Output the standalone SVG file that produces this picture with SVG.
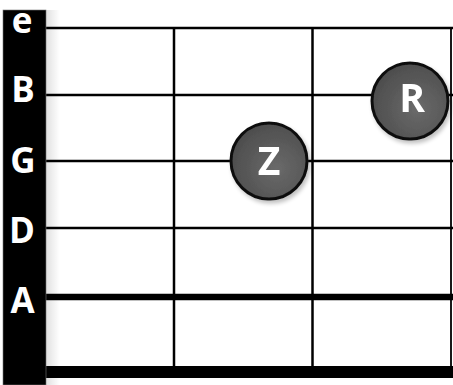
<svg xmlns="http://www.w3.org/2000/svg" width="453" height="385" viewBox="0 0 453 385">
  <defs>
    <radialGradient id="dot" cx="0.6" cy="0.6" r="0.6">
      <stop offset="0" stop-color="#6a6a6a"/>
      <stop offset="1" stop-color="#4e4e4e"/>
    </radialGradient>
    <linearGradient id="barShadow" x1="0" y1="0" x2="1" y2="0">
      <stop offset="0" stop-color="#000" stop-opacity="0.12"/>
      <stop offset="1" stop-color="#000" stop-opacity="0"/>
    </linearGradient>
    <filter id="sh" x="-30%" y="-30%" width="160%" height="160%">
      <feGaussianBlur in="SourceAlpha" stdDeviation="2"/>
      <feOffset dx="2" dy="3" result="b"/>
      <feComponentTransfer><feFuncA type="linear" slope="0.25"/></feComponentTransfer>
      <feMerge><feMergeNode/><feMergeNode in="SourceGraphic"/></feMerge>
    </filter>
  </defs>
  <style>
    .str { stroke: #000; fill: none; }
    .fret { stroke: #000; stroke-width: 2.5; fill: none; }
    .lbl { font-family: "Open Sans", "DejaVu Sans", sans-serif; font-weight: bold; font-size: 35px; fill: #fff; text-anchor: middle; }
    .dot { fill: url(#dot); stroke: #111; stroke-width: 3; }
    .dl { font-family: "Open Sans", "DejaVu Sans", sans-serif; font-weight: bold; font-size: 39px; fill: #fff; text-anchor: middle; }
  </style>
  <rect width="453" height="385" fill="#fff"/>
  <rect x="46" y="10" width="14" height="375" fill="url(#barShadow)"/>
  <g id="connectors">
    <line class="fret" x1="174" y1="28" x2="174" y2="372"/>
    <line class="fret" x1="312.5" y1="28" x2="312.5" y2="372"/>
    <line class="str" stroke-width="1.8" x1="451" y1="28" x2="451" y2="372"/>
    <line class="str" stroke-width="2.5" x1="46" y1="28" x2="453" y2="28"/>
    <line class="str" stroke-width="2.5" x1="46" y1="95" x2="453" y2="95"/>
    <line class="str" stroke-width="2.5" x1="46" y1="161" x2="453" y2="161"/>
    <line class="str" stroke-width="2.5" x1="46" y1="228" x2="453" y2="228"/>
    <line class="str" stroke-width="6.5" x1="46" y1="297" x2="453" y2="297"/>
    <line class="str" stroke-width="12" x1="46" y1="372" x2="453" y2="372"/>
  </g>
  <g id="nut">
    <rect x="3" y="10" width="43" height="375" fill="#000" stroke="#777" stroke-width="0.6"/>
    <text class="lbl" x="22" y="33">e</text>
    <text class="lbl" x="23" y="102">B</text>
    <text class="lbl" x="23" y="173">G</text>
    <text class="lbl" x="22" y="243">D</text>
    <text class="lbl" x="22.5" y="313">A</text>
  </g>
  <g id="node-Z" filter="url(#sh)">
    <circle class="dot" cx="269" cy="161" r="38"/>
    <text class="dl" x="269" y="175">Z</text>
  </g>
  <g id="node-R" filter="url(#sh)">
    <circle class="dot" cx="410" cy="101" r="38"/>
    <text class="dl" x="412" y="112">R</text>
  </g>
</svg>
